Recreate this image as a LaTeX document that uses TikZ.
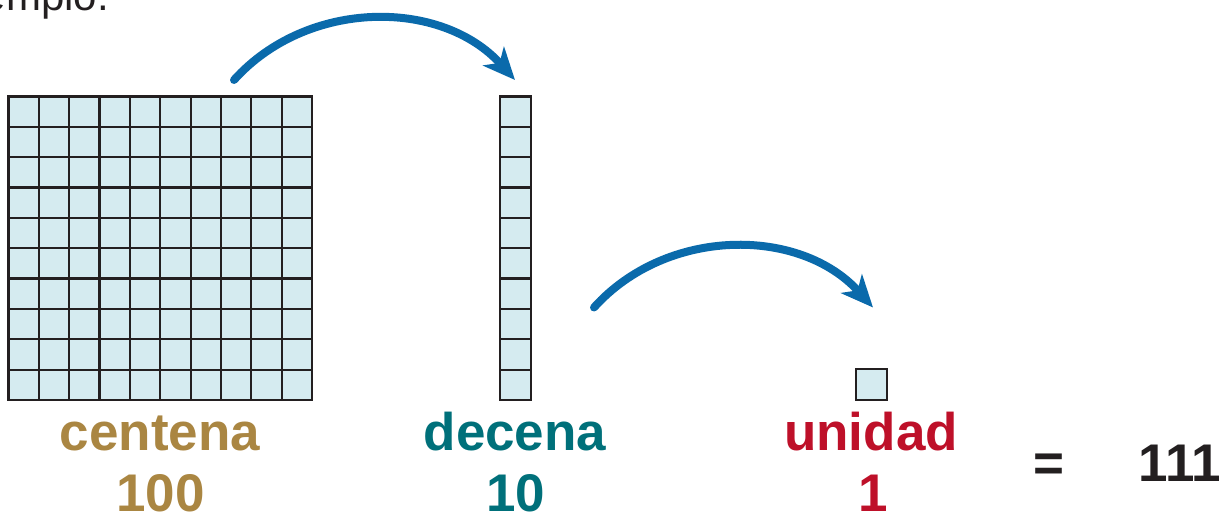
\documentclass[tikz,border=0pt]{standalone}
\usepackage{fontspec}
\setmainfont{Liberation Sans}
\usetikzlibrary{arrows.meta}
\definecolor{cellfill}{HTML}{D5EBF0}
\definecolor{gridink}{HTML}{231F20}
\definecolor{arrowblue}{HTML}{0A6AAB}
\definecolor{gold}{HTML}{AA8642}
\definecolor{teal}{HTML}{00707A}
\definecolor{crimson}{HTML}{BE1029}
\tikzset{
  gridline/.style={draw=gridink, line width=2.2pt},
  bigarrow/.style={draw=arrowblue, line width=8pt, line cap=round,
    -{Stealth[length=32pt,width=28pt,inset=9pt]}},
  lbl/.style={anchor=base, inner sep=0pt, font=\bfseries\fontsize{53}{53}\selectfont},
}
\begin{document}
\begin{tikzpicture}[x=1pt,y=1pt]
\clip (0,0) rectangle (1224,513);
\fill[white] (0,0) rectangle (1224,513);
% partial heading text
\node[anchor=base east, inner sep=0pt, text=gridink, font=\fontsize{42}{42}\selectfont] (head) at (109,502) {ejemplo.};
% hundred square
\begin{scope}[shift={(8.5,113)}]
  \fill[cellfill] (0,0) rectangle (303.5,303.5);
  \draw[gridline] (0,0) grid[step=30.35] (303.5,303.5);
  \draw[gridline] (0,0) rectangle (303.5,303.5);
  \coordinate (hundred) at (151.75,303.5);
\end{scope}
% ten column
\begin{scope}[shift={(500,113)}]
  \fill[cellfill] (0,0) rectangle (31,303.5);
  \draw[gridline] (0,0) grid[xstep=31,ystep=30.35] (31,303.5);
  \draw[gridline] (0,0) rectangle (31,303.5);
\end{scope}
% unit square
\draw[gridline, fill=cellfill] (856,113) rectangle (887,144);
% arrows
\coordinate (a1s) at (234,433);
\coordinate (a1e) at (515,433);
\coordinate (a2s) at (594,205.5);
\coordinate (a2e) at (873,205.5);
\draw[bigarrow] (a1s) to[out=48,in=132] (a1e);
\draw[bigarrow] (a2s) to[out=48,in=132] (a2e);
% labels
\node[lbl, text=gold] (cen) at (160,62.5) {centena};
\node[lbl, text=gold] (cenn) at (160.5,1.5) {100};
\node[lbl, text=teal] (dec) at (515,62.5) {decena};
\node[lbl, text=teal] (decn) at (516,1.5) {10};
\node[lbl, text=crimson] (uni) at (871,62.5) {unidad};
\node[lbl, text=crimson] (unin) at (873,1.5) {1};
\node[lbl, text=gridink] (eq) at (1049,31) {=};
\node[lbl, text=gridink] (tot) at (1180,31) {111};
\end{tikzpicture}
\end{document}
